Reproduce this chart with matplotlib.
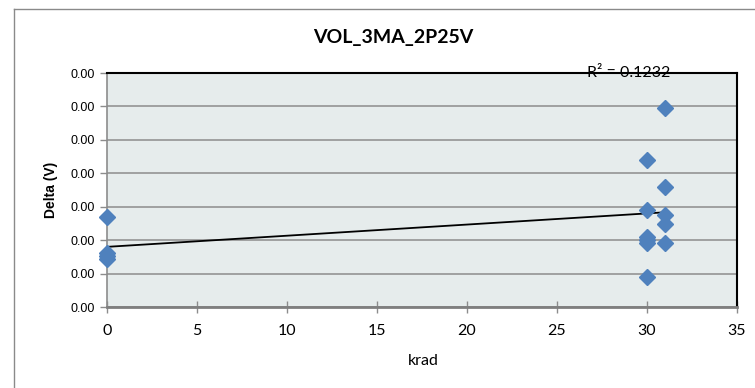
import matplotlib
matplotlib.use("Agg")
import matplotlib.pyplot as plt
import numpy as np
from matplotlib.lines import Line2D

title = "VOL_3MA_2P25V"
x_label = "krad"
y_label = "Delta (V)"
r2_label = "R² = 0.1232"

krad = [0, 0, 0, 0, 30, 30, 30, 30, 30, 30, 31, 31, 31, 31, 31]
delta = [0.00135, 0.00081, 0.00076, 0.00072,
         0.00220, 0.00145, 0.00105, 0.00100, 0.00096, 0.00045,
         0.00297, 0.00179, 0.00138, 0.00124, 0.00095]

x_ticks = [0, 5, 10, 15, 20, 25, 30, 35]
y_ticks = [0, 0.0005, 0.001, 0.0015, 0.002, 0.0025, 0.003, 0.0035]

W, H = 755, 388
fig = plt.figure(figsize=(W / 100, H / 100), dpi=100)
fig.patch.set_facecolor("white")

# chart area border
fx0 = 14 / W
fy1 = 1 - 9 / H
fig.add_artist(Line2D([fx0, 1.0], [fy1, fy1], transform=fig.transFigure, color="#8a8a8a", lw=1.0))
fig.add_artist(Line2D([fx0, fx0], [fy1, 0.0], transform=fig.transFigure, color="#8a8a8a", lw=1.0))

ax = fig.add_axes([107 / W, 1 - 307 / H, (737 - 107) / W, (307 - 73) / H])
ax.set_facecolor("#E6ECEC")
ax.set_xlim(0, 35)
ax.set_ylim(0, 0.0035)
ax.set_xticks(x_ticks)
ax.set_yticks(y_ticks)
ax.set_xticklabels([str(t) for t in x_ticks], fontfamily="Lato", fontsize=11.5)
ax.set_yticklabels([f"{t:.2f}" for t in y_ticks], fontfamily="Liberation Sans", fontsize=9)

ax.grid(axis="y", color="#8c8c8c", lw=1.1)
ax.set_axisbelow(True)

for s in ["top", "right"]:
    ax.spines[s].set_color("black")
    ax.spines[s].set_linewidth(1.5)
ax.spines["left"].set_color("#8c8c8c")
ax.spines["left"].set_linewidth(1.2)
ax.spines["bottom"].set_color("#7f7f7f")
ax.spines["bottom"].set_linewidth(2.0)

ax.tick_params(axis="y", direction="out", length=5, color="#8c8c8c", width=1, pad=4)
ax.tick_params(axis="x", direction="inout", length=9, color="#8c8c8c", width=1, pad=8)

# trendline
coef = np.polyfit(krad, delta, 1)
xt = np.array([min(krad), max(krad)])
ax.plot(xt, np.polyval(coef, xt), color="black", lw=1.3, zorder=2, clip_on=False)

ax.plot(krad, delta, linestyle="none", marker="D", markersize=8.5, color="#4F81BD",
        markeredgecolor="#4F81BD", zorder=3, clip_on=False)

ax.text(29.0, 0.0035, r2_label, fontfamily="Lato", fontsize=11.5, ha="center", va="center", zorder=4)

fig.text(393 / W, 1 - 37 / H, title, fontfamily="Lato", fontweight="bold", fontsize=14,
         ha="center", va="center")
fig.text(51 / W, 1 - 190 / H, y_label, fontfamily="Liberation Sans", fontweight="bold", fontsize=10,
         ha="center", va="center", rotation=90)
fig.text(423 / W, 1 - 361 / H, x_label, fontfamily="Lato", fontsize=11.5, ha="center", va="center")

fig.savefig("out.png", dpi=100)
